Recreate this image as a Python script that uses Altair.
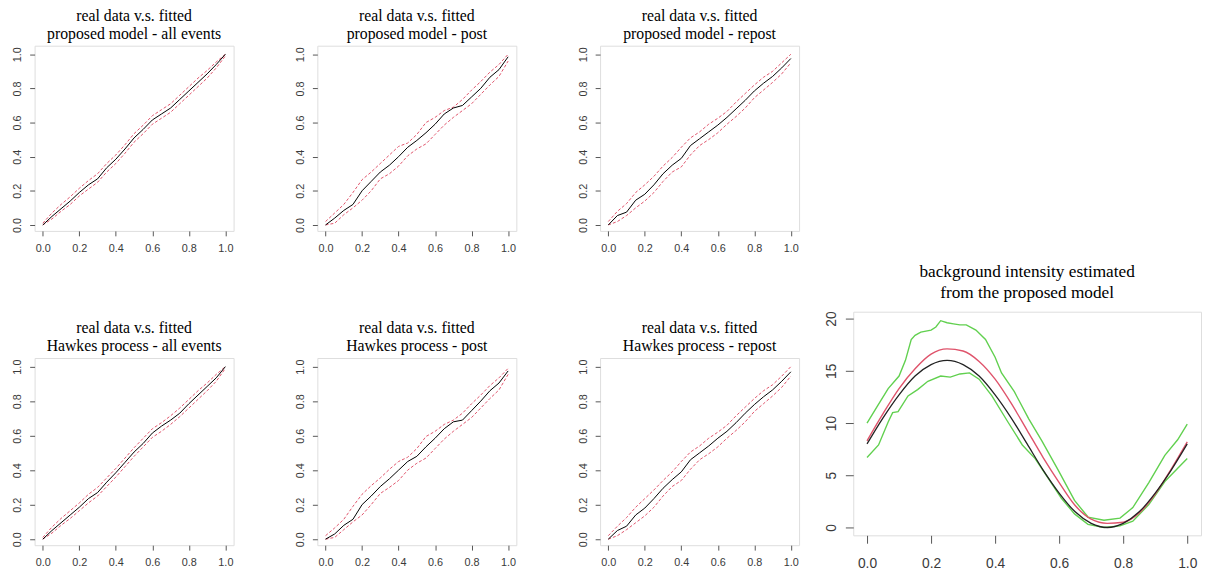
import altair as alt
import pandas as pd

# ---------------- data ----------------
qq_x = [0.00, 0.05, 0.10, 0.15, 0.20, 0.25, 0.30, 0.35, 0.40, 0.45, 0.50,
        0.55, 0.60, 0.65, 0.70, 0.75, 0.80, 0.85, 0.90, 0.95, 1.00]

# proposed model - all events
p1_black = [0.00, 0.05, 0.095, 0.14, 0.19, 0.235, 0.27, 0.335, 0.385, 0.445, 0.51,
            0.56, 0.615, 0.65, 0.685, 0.735, 0.785, 0.835, 0.885, 0.94, 1.00]
p1_upper = [0.01, 0.07, 0.12, 0.165, 0.215, 0.26, 0.30, 0.36, 0.41, 0.47, 0.535,
            0.585, 0.64, 0.675, 0.71, 0.76, 0.81, 0.86, 0.905, 0.955, 1.00]
p1_lower = [0.00, 0.035, 0.08, 0.12, 0.17, 0.21, 0.25, 0.31, 0.36, 0.42, 0.485,
            0.535, 0.59, 0.625, 0.66, 0.71, 0.76, 0.81, 0.86, 0.92, 0.99]

# proposed model - post
p2_black = [0.00, 0.04, 0.085, 0.12, 0.20, 0.255, 0.31, 0.35, 0.40, 0.455, 0.495,
            0.54, 0.59, 0.65, 0.685, 0.70, 0.75, 0.80, 0.865, 0.91, 0.985]
p2_upper = [0.02, 0.07, 0.12, 0.19, 0.265, 0.31, 0.36, 0.41, 0.46, 0.48, 0.53,
            0.60, 0.63, 0.67, 0.69, 0.735, 0.79, 0.84, 0.895, 0.94, 1.00]
p2_lower = [0.00, 0.01, 0.06, 0.10, 0.145, 0.20, 0.27, 0.30, 0.345, 0.405, 0.445,
            0.475, 0.53, 0.585, 0.63, 0.67, 0.71, 0.765, 0.82, 0.87, 0.96]

# proposed model - repost
p3_black = [0.00, 0.055, 0.075, 0.145, 0.18, 0.235, 0.30, 0.35, 0.39, 0.465, 0.505,
            0.545, 0.585, 0.63, 0.68, 0.73, 0.785, 0.83, 0.87, 0.92, 0.975]
p3_upper = [0.02, 0.08, 0.125, 0.19, 0.235, 0.285, 0.345, 0.395, 0.455, 0.51, 0.545,
            0.59, 0.625, 0.665, 0.72, 0.77, 0.82, 0.865, 0.90, 0.95, 1.00]
p3_lower = [0.00, 0.02, 0.055, 0.10, 0.14, 0.19, 0.255, 0.31, 0.34, 0.41, 0.465,
            0.50, 0.54, 0.59, 0.635, 0.685, 0.745, 0.79, 0.835, 0.885, 0.95]

# Hawkes process - all events
p4_black = [0.00, 0.05, 0.095, 0.14, 0.185, 0.235, 0.27, 0.33, 0.385, 0.445, 0.505,
            0.555, 0.615, 0.655, 0.69, 0.73, 0.785, 0.835, 0.885, 0.935, 1.00]
p4_upper = [0.01, 0.07, 0.12, 0.165, 0.21, 0.26, 0.30, 0.355, 0.41, 0.47, 0.53,
            0.585, 0.64, 0.675, 0.715, 0.76, 0.81, 0.86, 0.905, 0.955, 1.00]
p4_lower = [0.00, 0.035, 0.08, 0.12, 0.165, 0.21, 0.25, 0.305, 0.36, 0.42, 0.48,
            0.535, 0.59, 0.625, 0.665, 0.71, 0.76, 0.81, 0.86, 0.915, 0.99]

# Hawkes process - post
p5_black = [0.00, 0.03, 0.08, 0.115, 0.20, 0.25, 0.305, 0.35, 0.40, 0.45, 0.48,
            0.535, 0.585, 0.64, 0.68, 0.69, 0.745, 0.80, 0.86, 0.905, 0.975]
p5_upper = [0.02, 0.065, 0.115, 0.19, 0.26, 0.31, 0.355, 0.405, 0.45, 0.475, 0.525,
            0.595, 0.625, 0.665, 0.69, 0.73, 0.785, 0.835, 0.89, 0.935, 0.99]
p5_lower = [0.00, 0.01, 0.055, 0.10, 0.14, 0.20, 0.265, 0.30, 0.34, 0.40, 0.44,
            0.47, 0.525, 0.58, 0.625, 0.665, 0.705, 0.76, 0.815, 0.865, 0.955]

# Hawkes process - repost
p6_black = [0.00, 0.05, 0.075, 0.14, 0.18, 0.235, 0.295, 0.345, 0.39, 0.46, 0.50,
            0.54, 0.585, 0.625, 0.675, 0.73, 0.78, 0.825, 0.865, 0.915, 0.97]
p6_upper = [0.02, 0.075, 0.125, 0.185, 0.235, 0.285, 0.34, 0.39, 0.45, 0.505, 0.54,
            0.585, 0.62, 0.66, 0.715, 0.765, 0.815, 0.86, 0.895, 0.945, 1.00]
p6_lower = [0.00, 0.02, 0.055, 0.095, 0.135, 0.185, 0.25, 0.305, 0.34, 0.405, 0.46,
            0.495, 0.535, 0.585, 0.63, 0.68, 0.74, 0.785, 0.83, 0.88, 0.945]

# background intensity
bg_x = [0.00, 0.05, 0.10, 0.15, 0.20, 0.25, 0.30, 0.35, 0.40, 0.45, 0.50,
        0.55, 0.60, 0.65, 0.70, 0.75, 0.80, 0.85, 0.90, 0.95, 1.00]
bg_true = [8.0, 10.5, 12.7, 14.5, 15.6, 16.0, 15.6, 14.5, 12.7, 10.5, 8.0,
           5.5, 3.3, 1.5, 0.4, 0.0, 0.4, 1.5, 3.3, 5.5, 8.0]
bg_est = [8.3, 10.9, 13.3, 15.2, 16.6, 17.1, 16.9, 15.9, 14.2, 11.9, 9.3,
          6.7, 4.3, 2.1, 0.8, 0.4, 0.5, 1.4, 3.2, 5.6, 8.2]
up_x = [0.00, 0.03, 0.066, 0.10, 0.12, 0.138, 0.15, 0.168, 0.20, 0.215, 0.23, 0.25,
        0.27, 0.29, 0.31, 0.34, 0.37, 0.40, 0.42, 0.46, 0.505, 0.546, 0.597, 0.648,
        0.69, 0.74, 0.79, 0.83, 0.88, 0.93, 0.97, 1.00]
up_y = [10.0, 11.5, 13.3, 14.5, 16.0, 18.0, 18.4, 18.7, 18.9, 19.2, 19.8, 19.6,
        19.5, 19.4, 19.4, 18.9, 18.0, 16.3, 14.8, 13.0, 10.4, 8.3, 5.5, 2.6,
        1.0, 0.7, 0.9, 1.9, 4.3, 6.9, 8.4, 9.9]
lo_x = [0.00, 0.036, 0.066, 0.08, 0.097, 0.128, 0.158, 0.19, 0.23, 0.26, 0.29, 0.32,
        0.35, 0.39, 0.44, 0.485, 0.525, 0.566, 0.607, 0.648, 0.69, 0.74, 0.79, 0.83,
        0.88, 0.93, 1.00]
lo_y = [6.7, 7.9, 10.1, 11.0, 11.1, 12.6, 13.2, 14.0, 14.5, 14.4, 14.7, 14.8,
        14.2, 12.6, 10.1, 7.9, 6.6, 4.7, 2.8, 1.3, 0.3, 0.0, 0.15, 0.6,
        2.2, 4.4, 6.6]

qq_ticks = [0.0, 0.2, 0.4, 0.6, 0.8, 1.0]
bg_xticks = [0.0, 0.2, 0.4, 0.6, 0.8, 1.0]
bg_yticks = [0, 5, 10, 15, 20]

RED = "#DF536B"
GREEN = "#61D04F"
SERIF = "Liberation Serif"
SANS = "Liberation Sans"
LABEL_COLOR = "#3a3a3a"
TICK_COLOR = "#555555"


def qq_panel(title_lines, black, lower, upper, h):
    df = pd.DataFrame({"x": qq_x, "black": black, "lower": lower, "upper": upper})
    xenc = alt.X("x:Q", title=None,
                 scale=alt.Scale(domain=[-0.045, 1.045], nice=False, zero=False),
                 axis=alt.Axis(values=qq_ticks, format=".1f", domain=False, grid=False,
                               tickSize=5, tickColor=TICK_COLOR, labelFont=SANS,
                               labelFontSize=11, labelColor=LABEL_COLOR, labelPadding=7,
                               labelFlush=False))
    yaxis = alt.Axis(values=qq_ticks, format=".1f", domain=False, grid=False,
                     tickSize=5, tickColor=TICK_COLOR, labelFont=SANS,
                     labelFontSize=11, labelColor=LABEL_COLOR, labelAngle=270,
                     labelAlign="center", labelBaseline="bottom", labelPadding=7,
                     labelFlush=False, minExtent=26, maxExtent=26)
    yscale = alt.Scale(domain=[-0.035, 1.05], nice=False, zero=False)
    bands = alt.Chart(df).transform_fold(["lower", "upper"], as_=["band", "val"]).mark_line(
        color=RED, strokeWidth=1, strokeDash=[3, 2]
    ).encode(x=xenc, y=alt.Y("val:Q", title=None, scale=yscale, axis=yaxis),
             detail="band:N")
    line = alt.Chart(df).mark_line(color="black", strokeWidth=1).encode(
        x=xenc, y=alt.Y("black:Q", title=None, scale=yscale, axis=yaxis))
    return alt.layer(bands, line).properties(
        width=202, height=h,
        title=alt.TitleParams(text=title_lines, font=SERIF, fontSize=16,
                              fontWeight="normal", lineHeight=18, anchor="middle",
                              frame="group", offset=4, color="black"))


p1 = qq_panel(["real data v.s. fitted", "proposed model - all events"], p1_black, p1_lower, p1_upper, 188)
p2 = qq_panel(["real data v.s. fitted", "proposed model - post"], p2_black, p2_lower, p2_upper, 188)
p3 = qq_panel(["real data v.s. fitted", "proposed model - repost"], p3_black, p3_lower, p3_upper, 188)
p4 = qq_panel(["real data v.s. fitted", "Hawkes process - all events"], p4_black, p4_lower, p4_upper, 190)
p5 = qq_panel(["real data v.s. fitted", "Hawkes process - post"], p5_black, p5_lower, p5_upper, 190)
p6 = qq_panel(["real data v.s. fitted", "Hawkes process - repost"], p6_black, p6_lower, p6_upper, 190)

# big panel
bg_df = pd.DataFrame({"x": bg_x, "true": bg_true, "est": bg_est})
up_df = pd.DataFrame({"x": up_x, "y": up_y})
lo_df = pd.DataFrame({"x": lo_x, "y": lo_y})
bx = alt.X("x:Q", title=None,
           scale=alt.Scale(domain=[-0.043, 1.043], nice=False, zero=False),
           axis=alt.Axis(values=bg_xticks, format=".1f", domain=False, grid=False,
                         tickSize=8, tickColor=TICK_COLOR, labelFont=SANS,
                         labelFontSize=14, labelColor=LABEL_COLOR, labelPadding=14,
                         labelFlush=False))
bys = alt.Scale(domain=[-0.75, 20.66], nice=False, zero=False)
bya = alt.Axis(values=bg_yticks, format="d", domain=False, grid=False,
               tickSize=8, tickColor=TICK_COLOR, labelFont=SANS,
               labelFontSize=14, labelColor=LABEL_COLOR, labelAngle=270,
               labelAlign="center", labelBaseline="bottom", labelPadding=7,
               labelFlush=False, minExtent=32, maxExtent=32)
g_up = alt.Chart(up_df).mark_line(color=GREEN, strokeWidth=1.4).encode(
    x=bx, y=alt.Y("y:Q", title=None, scale=bys, axis=bya))
g_lo = alt.Chart(lo_df).mark_line(color=GREEN, strokeWidth=1.4).encode(
    x=bx, y=alt.Y("y:Q", title=None, scale=bys, axis=bya))
l_est = alt.Chart(bg_df).mark_line(color=RED, strokeWidth=1.4, interpolate="monotone").encode(
    x=bx, y=alt.Y("est:Q", title=None, scale=bys, axis=bya))
l_true = alt.Chart(bg_df).mark_line(color="#222222", strokeWidth=1.3, interpolate="monotone").encode(
    x=bx, y=alt.Y("true:Q", title=None, scale=bys, axis=bya))
p7 = alt.layer(g_up, g_lo, l_est, l_true).properties(
    width=353, height=227,
    title=alt.TitleParams(text=["background intensity estimated", "from the proposed model"],
                          font=SERIF, fontSize=17.5, fontWeight="normal", lineHeight=21,
                          anchor="middle", frame="group", offset=10, color="black"))

spacer = alt.Chart(pd.DataFrame({"v": [0]})).mark_point(opacity=0).encode(
    x=alt.X("v:Q", axis=None), y=alt.Y("v:Q", axis=None)
).properties(width=300, height=200, view=alt.ViewBackground(strokeOpacity=0))

col1 = alt.vconcat(p1, p4, spacing=66)
col2 = alt.vconcat(p2, p5, spacing=66)
col3 = alt.vconcat(p3, p6, spacing=66)
col4 = alt.vconcat(spacer, p7, spacing=20)

left = alt.hconcat(col1, col2, col3, spacing=57)
chart = alt.hconcat(left, col4, spacing=21).properties(
    padding={"left": 0, "top": -5, "right": 0, "bottom": 0}
).configure_view(stroke="#606060", strokeWidth=1.3).configure(background="white")

chart.save("out.html", embed_options={"renderer": "svg", "actions": False})
